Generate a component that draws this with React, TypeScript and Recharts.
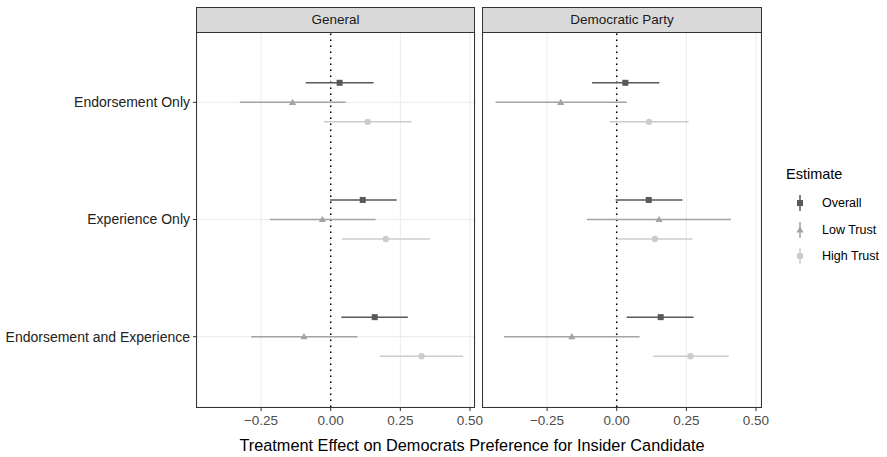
import React from "react"
import { ScatterChart, Scatter, XAxis, YAxis, CartesianGrid, ErrorBar, ReferenceLine } from "recharts"

const categories = ["Endorsement Only", "Experience Only", "Endorsement and Experience"]
const estimates = ["Overall", "Low Trust", "High Trust"]
const panels = ["General", "Democratic Party"]
const xTicks = [-0.25, 0, 0.25, 0.5]

// [estimate, lower, upper] for each category
const generalOverall = [[0.032, -0.09, 0.154], [0.115, -0.002, 0.237], [0.158, 0.038, 0.277]]
const generalLow = [[-0.137, -0.326, 0.054], [-0.03, -0.218, 0.161], [-0.096, -0.285, 0.096]]
const generalHigh = [[0.133, -0.024, 0.29], [0.198, 0.04, 0.356], [0.326, 0.176, 0.476]]

const partyOverall = [[0.031, -0.089, 0.153], [0.115, -0.004, 0.236], [0.158, 0.036, 0.276]]
const partyLow = [[-0.201, -0.435, 0.036], [0.152, -0.107, 0.41], [-0.161, -0.405, 0.082]]
const partyHigh = [[0.116, -0.025, 0.258], [0.137, 0.002, 0.272], [0.265, 0.131, 0.402]]

const colors = ["#595959", "#a3a3a3", "#cccccc"]
const shapes = ["square", "triangle", "circle"]
const offsets = [-1 / 6, 0, 1 / 6]

const FONT = "'Liberation Sans', Arial, Helvetica, sans-serif"

const toRows = (vals: number[][], k: number) =>
  vals.map((v, i) => ({
    y: i + 1 + offsets[k],
    x: v[0],
    err: [v[0] - v[1], v[2] - v[0]],
  }))

const panelData = [
  [generalOverall, generalLow, generalHigh],
  [partyOverall, partyLow, partyHigh],
]

function Marker({ kind, color, cx, cy }: { kind: string; color: string; cx: number; cy: number }) {
  if (kind === "square") return <rect x={cx - 3} y={cy - 3} width={6} height={6} fill={color} />
  if (kind === "triangle")
    return <polygon points={`${cx},${cy - 3.6} ${cx - 3.6},${cy + 2.6} ${cx + 3.6},${cy + 2.6}`} fill={color} />
  return <circle cx={cx} cy={cy} r={3.2} fill={color} />
}

const fmt = (v: number) => (v < 0 ? "\u2212" : "") + Math.abs(v).toFixed(2)

function Panel({ idx, left, showY }: { idx: number; left: number; showY: boolean }) {
  const yW = showY ? 197 : 0
  const ml = showY ? 0 : 20
  const width = ml + yW + 278 + 20
  return (
    <div style={{ position: "absolute", left, top: 32 }}>
      <ScatterChart width={width} height={405} margin={{ top: 0, right: 20, bottom: 0, left: ml }}>
        <CartesianGrid stroke="#ebebeb" strokeWidth={1} />
        <XAxis
          type="number"
          dataKey="x"
          domain={[-0.48, 0.518]}
          ticks={xTicks}
          allowDataOverflow
          axisLine={false}
          tickSize={4}
          tickMargin={4}
          tickLine={{ stroke: "#333" }}
          tickFormatter={fmt}
          tick={{ fontSize: 13.5, fill: "#4d4d4d", fontFamily: FONT }}
          height={30}
        />
        <YAxis
          type="number"
          dataKey="y"
          domain={[0.4, 3.6]}
          ticks={[1, 2, 3]}
          reversed
          allowDataOverflow
          width={yW}
          axisLine={false}
          tickSize={showY ? 4 : 0}
          tickMargin={3}
          tickLine={showY ? { stroke: "#333" } : false}
          tick={showY ? { fontSize: 14, fill: "#222", fontFamily: FONT } : false}
          tickFormatter={(v: number) => categories[v - 1]}
        />
        <ReferenceLine x={0} stroke="#000" strokeWidth={1.5} strokeDasharray="1.5 4.5" />
        {estimates.map((name, k) => (
          <Scatter
            key={name}
            name={name}
            data={toRows(panelData[idx][k], k)}
            isAnimationActive={false}
            shape={(p: any) => <Marker kind={shapes[k]} color={colors[k]} cx={p.cx} cy={p.cy} />}
          >
            <ErrorBar dataKey="err" direction="x" width={0} stroke={colors[k]} strokeWidth={1.5} />
          </Scatter>
        ))}
      </ScatterChart>
    </div>
  )
}

function Frame({ left, width, title }: { left: number; width: number; title: string }) {
  return (
    <div
      style={{
        position: "absolute",
        left,
        top: 7,
        width,
        height: 401,
        boxSizing: "border-box",
        border: "1px solid #333",
        pointerEvents: "none",
      }}
    >
      <div
        style={{
          height: 24,
          background: "#d9d9d9",
          borderBottom: "1px solid #333",
          fontSize: 13.5,
          color: "#1a1a1a",
          textAlign: "center",
          lineHeight: "24px",
        }}
      >
        {title}
      </div>
    </div>
  )
}

export default function App() {
  return (
    <div
      style={{
        position: "absolute",
        left: 0,
        top: 0,
        width: 887,
        height: 457,
        background: "#fff",
        fontFamily: FONT,
        overflow: "hidden",
      }}
    >
      <Panel idx={0} left={0} showY />
      <Panel idx={1} left={463} showY={false} />
      <Frame left={196} width={279} title={panels[0]} />
      <Frame left={482} width={280} title={panels[1]} />
      <div
        style={{
          position: "absolute",
          left: 190,
          width: 564,
          top: 436,
          textAlign: "center",
          fontSize: 16.3,
          color: "#000",
        }}
      >
        Treatment Effect on Democrats Preference for Insider Candidate
      </div>
      <div style={{ position: "absolute", left: 786, top: 166 }}>
        <div style={{ fontSize: 14.5, color: "#000", marginBottom: 8 }}>Estimate</div>
        {estimates.map((name, k) => (
          <div key={name} style={{ display: "flex", alignItems: "center", height: 26.5 }}>
            <svg width={30} height={22}>
              <line x1={14} x2={14} y1={3} y2={19} stroke={colors[k]} strokeWidth={1.5} />
              <Marker kind={shapes[k]} color={colors[k]} cx={14} cy={11} />
            </svg>
            <span style={{ fontSize: 12.5, color: "#000", marginLeft: 6 }}>{name}</span>
          </div>
        ))}
      </div>
    </div>
  )
}
